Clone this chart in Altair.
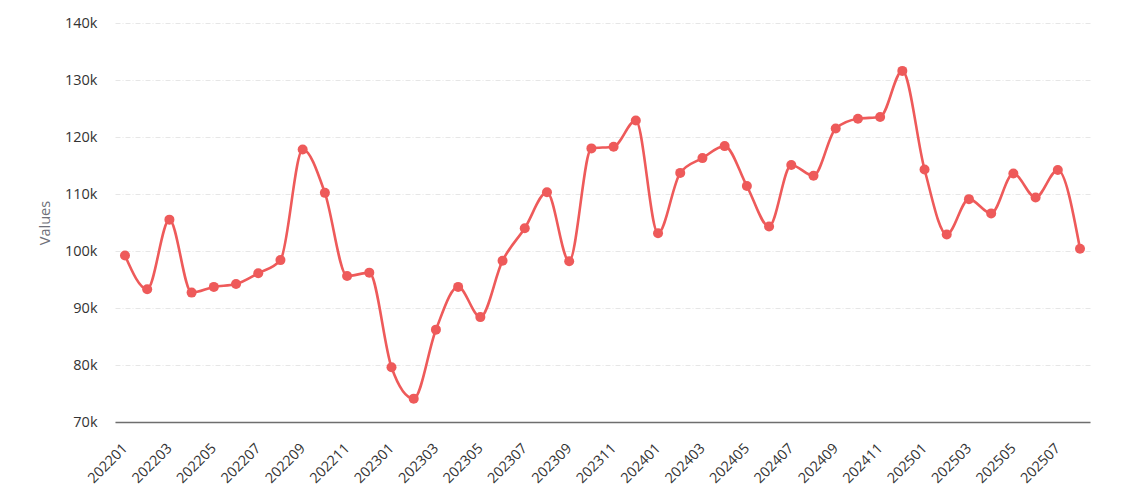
import altair as alt
import pandas as pd

months = [
    "202201", "202202", "202203", "202204", "202205", "202206", "202207", "202208",
    "202209", "202210", "202211", "202212",
    "202301", "202302", "202303", "202304", "202305", "202306", "202307", "202308",
    "202309", "202310", "202311", "202312",
    "202401", "202402", "202403", "202404", "202405", "202406", "202407", "202408",
    "202409", "202410", "202411", "202412",
    "202501", "202502", "202503", "202504", "202505", "202506", "202507", "202508",
]
values = [
    99.2, 93.3, 105.5, 92.7, 93.7, 94.2, 96.1, 98.4,
    117.8, 110.2, 95.6, 96.2,
    79.6, 74.1, 86.2, 93.7, 88.4, 98.3, 104.0, 110.3,
    98.2, 118.0, 118.3, 122.9,
    103.1, 113.7, 116.3, 118.4, 111.4, 104.3, 115.1, 113.2,
    121.5, 123.2, 123.5, 131.6,
    114.3, 102.9, 109.1, 106.6, 113.6, 109.4, 114.2, 100.4,
]
tick_labels = months[::2]
y_ticks = [70000, 80000, 90000, 100000, 110000, 120000, 130000, 140000]

df = pd.DataFrame({"month": months, "value": [v * 1000 for v in values]})

FONT = "Open Sans"
RED = "#EE5A5A"

base = alt.Chart(df).encode(
    x=alt.X(
        "month:O",
        sort=months,
        scale=alt.Scale(type="point", padding=0.45),
        axis=alt.Axis(title=None, values=tick_labels),
    ),
    y=alt.Y(
        "value:Q",
        scale=alt.Scale(domain=[70000, 140000], nice=False, zero=False),
        axis=alt.Axis(
            title="Values",
            values=y_ticks,
            labelExpr="datum.value / 1000 + 'k'",
        ),
    ),
)

line = base.mark_line(color=RED, strokeWidth=2.6, interpolate="monotone")
points = base.mark_circle(color=RED, size=100, opacity=1)

chart = (
    alt.layer(line, points)
    .properties(
        width=975,
        height=399,
        background="white",
        autosize=alt.AutoSizeParams(type="none"),
        padding={"left": 107, "top": 15, "right": 30, "bottom": 80},
    )
    .configure_view(stroke="transparent", strokeWidth=0)
    .configure_axisX(
        labelAngle=-45,
        labelAlign="right",
        labelBaseline="middle",
        labelFontSize=14.3,
        labelLimit=400,
        labelColor="#333333",
        labelFont=FONT,
        labelPadding=24,
        ticks=False,
        domainColor="#6E6E6E",
        domainWidth=1.5,
        grid=False,
    )
    .configure_axisY(
        labelFontSize=14.5,
        labelColor="#333333",
        labelFont=FONT,
        labelPadding=18,
        ticks=False,
        domain=False,
        grid=True,
        gridColor="#E6E6E6",
        gridDash=[5, 2, 1, 2],
        gridWidth=1,
        titleFont=FONT,
        titleFontSize=14.5,
        titleFontWeight="normal",
        titleColor="#6E7079",
        titlePadding=12,
    )
)

chart.save("out.html", embed_options={"renderer": "svg", "actions": False})
